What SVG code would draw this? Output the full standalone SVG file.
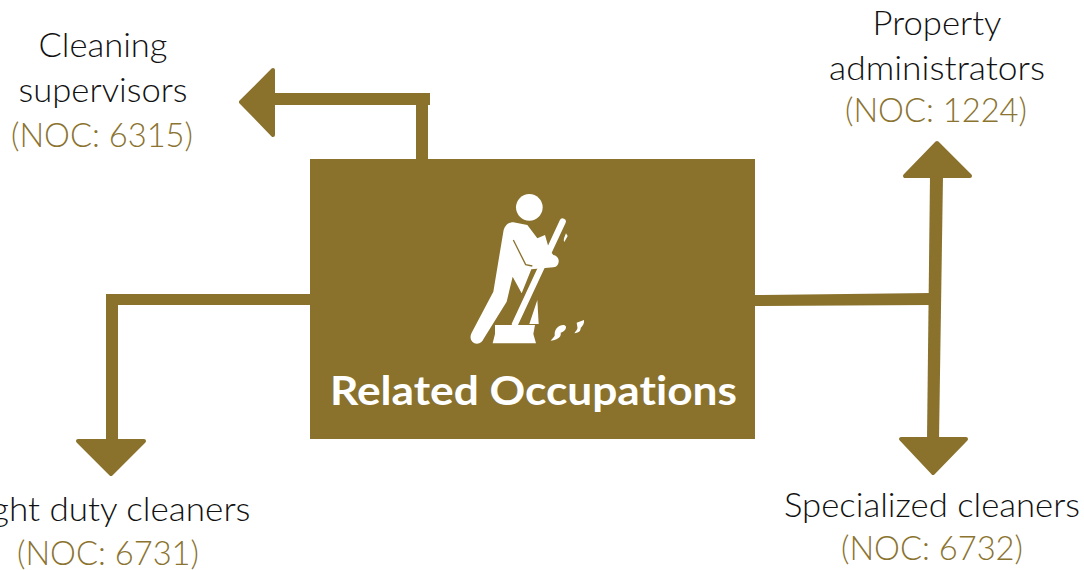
<svg xmlns="http://www.w3.org/2000/svg" width="1084" height="570" viewBox="0 0 1084 570">
<style>
text{font-family:"Lato","Liberation Sans",sans-serif;font-size:33px;font-weight:300;text-anchor:middle;fill:#111;font-variant-ligatures:none}
.n{fill:#8b7330}
.t{font-weight:700;font-size:40px;fill:#fff}
.c{fill:#8a722d}
.h{fill:#8a722d;stroke:#8a722d;stroke-width:4;stroke-linejoin:round}
.i{fill:#fff}
</style>
<rect width="1084" height="570" fill="#fff"/>
<g id="connectors">
<rect class="c" x="275" y="93" width="155" height="12"/>
<rect class="c" x="416" y="105" width="12" height="54"/>
<path class="h" d="M273 70V135L241 102Z"/>
<rect class="c" x="106" y="294" width="204" height="11"/>
<rect class="c" x="106" y="294" width="12" height="148"/>
<path class="h" d="M78 441H144L111 474Z"/>
<path class="c" d="M755 295L930 293V305L755 306Z"/>
<path class="c" d="M930 176H943L939 440H927Z"/>
<path class="h" d="M905 176H970L937 143Z"/>
<path class="h" d="M901 439H966L933 473Z"/>
</g>
<g id="related-occupations">
<rect class="c" x="310" y="159" width="445" height="280"/>
<g transform="translate(450 180) scale(.33333)">
<circle class="i" cx="238" cy="82" r="40"/>
<path class="i" d="M190 127C172 127 163 140 160 155L130 335L65 458C56 475 66 491 81 491C91 491 97 484 101 476L170 365L188 290L215 340L244 268L310 262C322 262 327 250 326 241C325 232 318 226 310 225L298 210L285 165L262 175L232 135Z"/>
<path d="M190 180L227 254L247 258" stroke="#8a722d" stroke-width="4" fill="none"/>
<path d="M338 125L195 432" stroke="#fff" stroke-width="19" stroke-linecap="round" fill="none"/>
<path class="i" d="M238 432L262 360L266 432Z"/>
<path class="i" d="M135 435H255L250 462L258 490H128L135 462Z"/>
<path class="i" d="M348 160L353 168L343 186C339 180 344 170 348 160Z"/>
<path class="i" d="M320 445C330 434 345 432 348 440C349 450 338 456 332 458C334 468 328 478 302 482C308 474 316 470 314 462C314 456 316 450 320 445Z"/>
<path class="i" d="M380 428L402 420C404 430 398 438 392 444C392 452 388 458 373 460C378 452 384 448 382 440Z"/>
</g>
<text class="t" x="533.500" y="405" textLength="407" lengthAdjust="spacingAndGlyphs">Related Occupations</text>
</g>
<g id="cleaning-supervisors">
<text x="103" y="57" textLength="129" lengthAdjust="spacingAndGlyphs">Cleaning</text>
<text x="103" y="102" textLength="169" lengthAdjust="spacingAndGlyphs">supervisors</text>
<text class="n" x="102" y="147" textLength="182" lengthAdjust="spacingAndGlyphs">(NOC: 6315)</text>
</g>
<g id="property-administrators">
<text x="937" y="35" textLength="129" lengthAdjust="spacingAndGlyphs">Property</text>
<text x="937" y="80" textLength="216" lengthAdjust="spacingAndGlyphs">administrators</text>
<text class="n" x="936" y="122" textLength="182" lengthAdjust="spacingAndGlyphs">(NOC: 1224)</text>
</g>
<g id="light-duty-cleaners">
<text x="108" y="521" textLength="285" lengthAdjust="spacingAndGlyphs">Light duty cleaners</text>
<text class="n" x="108" y="565" textLength="182" lengthAdjust="spacingAndGlyphs">(NOC: 6731)</text>
</g>
<g id="specialized-cleaners">
<text x="932" y="517" textLength="296" lengthAdjust="spacingAndGlyphs">Specialized cleaners</text>
<text class="n" x="932" y="560" textLength="182" lengthAdjust="spacingAndGlyphs">(NOC: 6732)</text>
</g>
</svg>
